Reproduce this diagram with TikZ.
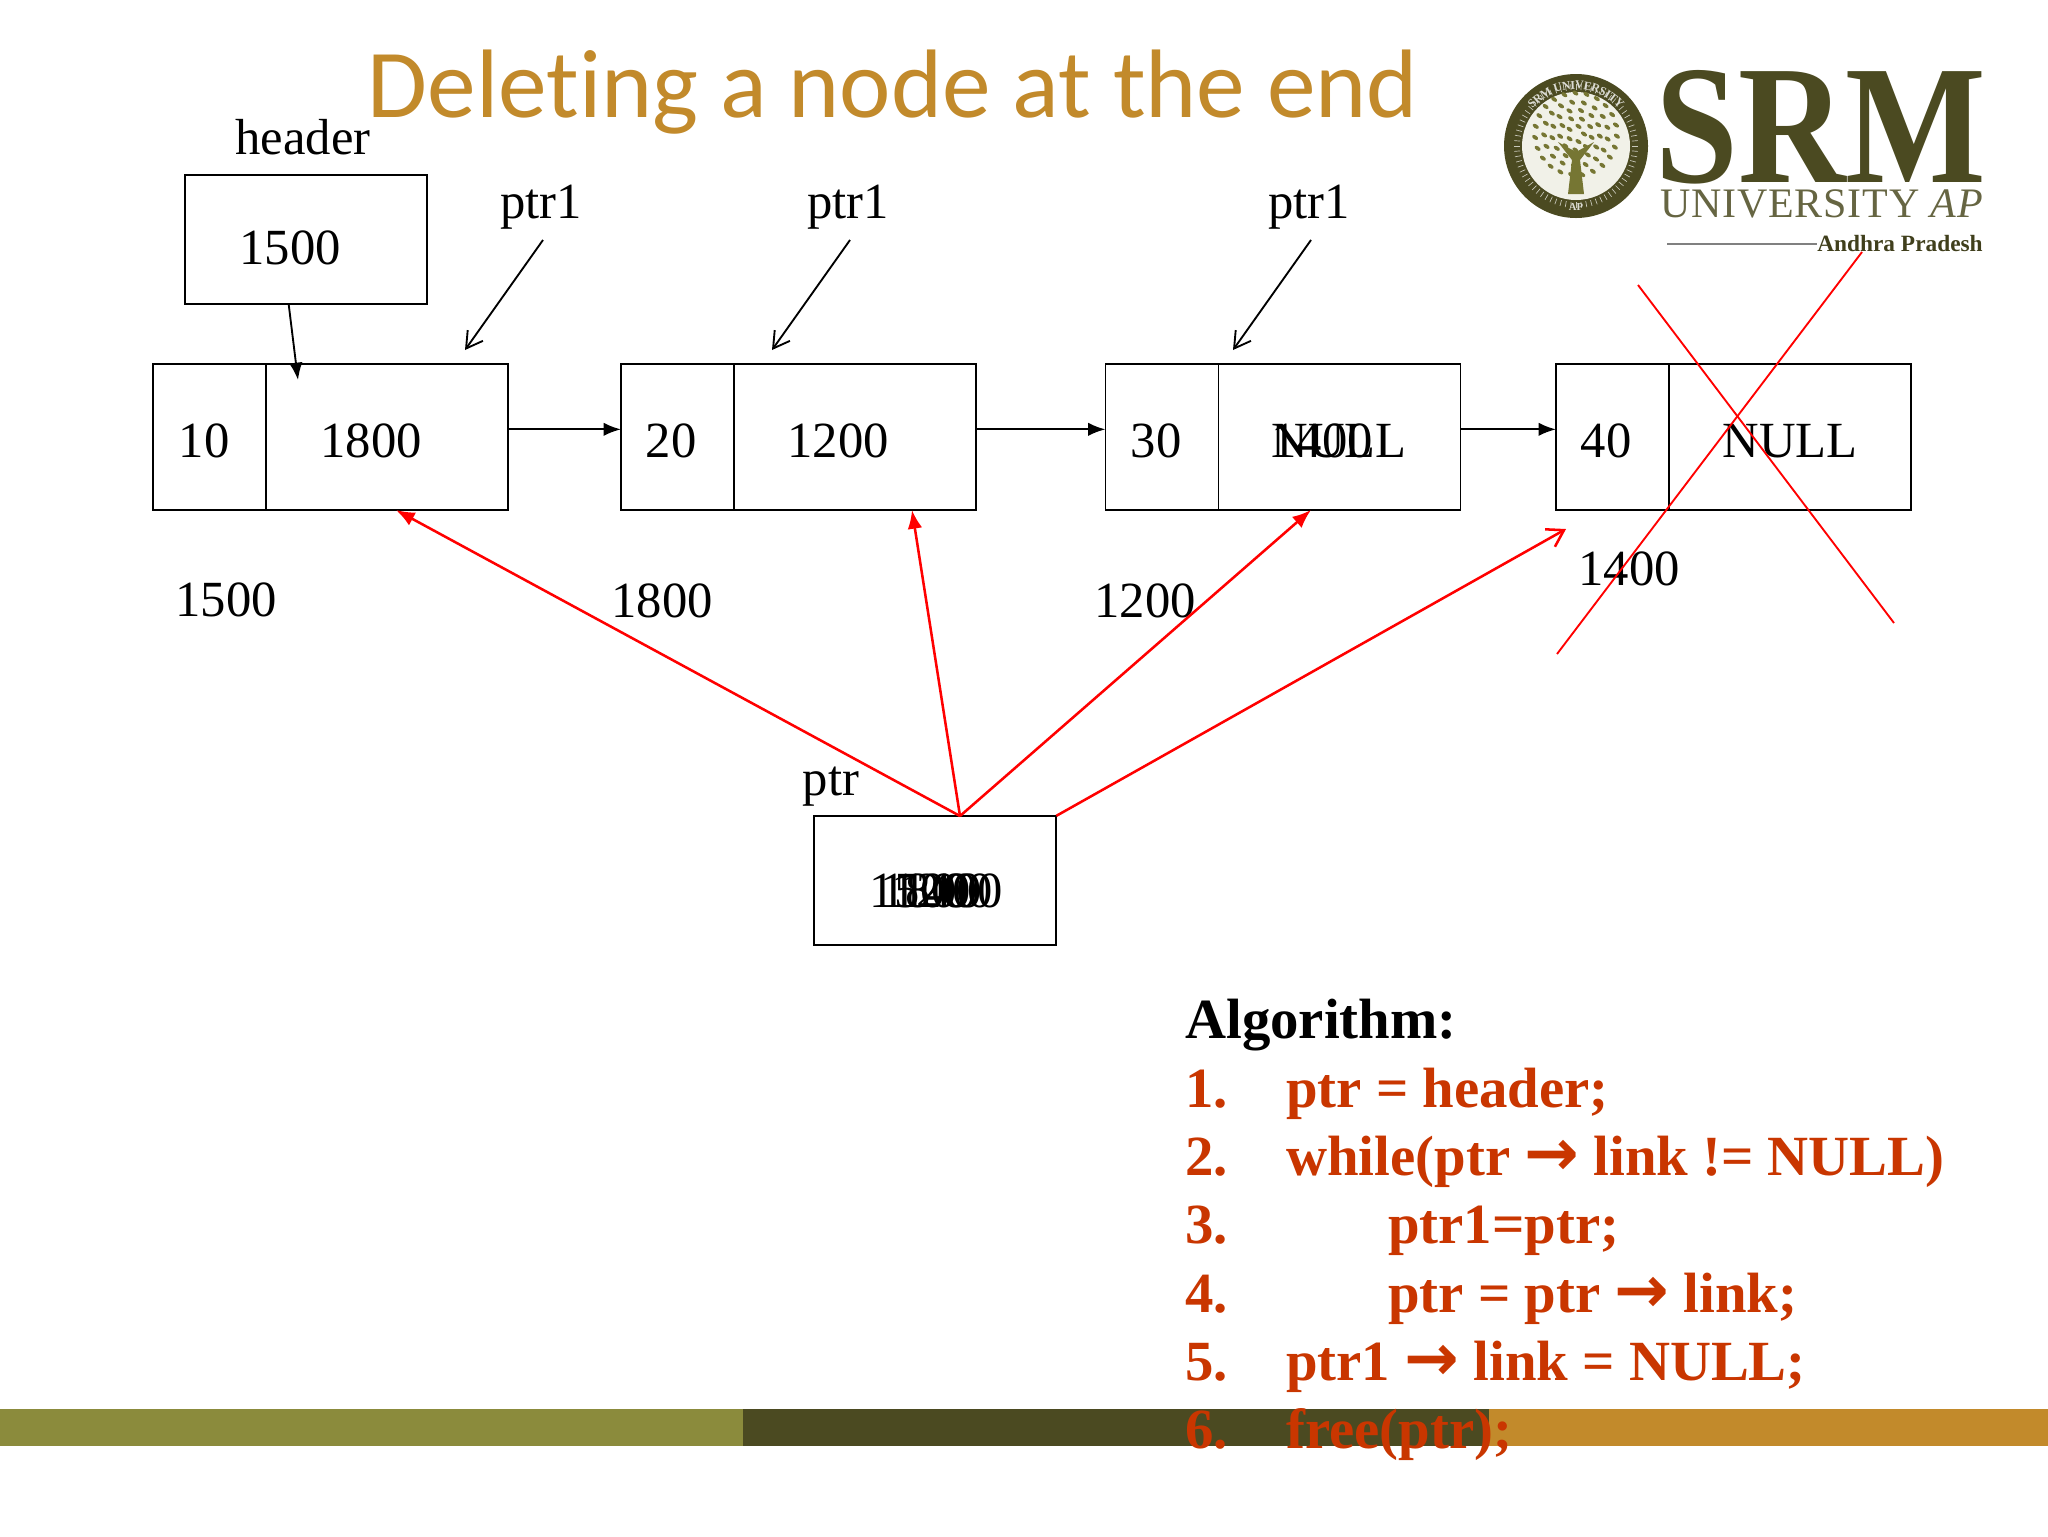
\documentclass[tikz,border=0pt]{standalone}
\usepackage{fontspec}
\setmainfont{Liberation Serif}
\newfontfamily\titlefont[Ligatures=NoCommon]{Carlito}
\newfontfamily\arrowfont{DejaVu Sans}
\usetikzlibrary{arrows.meta,decorations.text}
\definecolor{srmolive}{HTML}{8B8B3C}
\definecolor{srmdark}{HTML}{4B4A21}
\definecolor{srmgold}{HTML}{C28A2B}
\definecolor{algored}{HTML}{C93600}
\newcommand{\bigarrow}{{\arrowfont\fontsize{49}{46}\selectfont →}}
\tikzset{
  datacell/.style={draw,line width=1.4pt,outer sep=0pt,inner sep=0pt,minimum width=84.75pt,minimum height=109.5pt},
  linkcell/.style={draw,line width=1.4pt,outer sep=0pt,inner sep=0pt,minimum width=181.5pt,minimum height=109.5pt},
  valbox/.style={draw,line width=1.4pt,outer sep=0pt,inner sep=0pt,minimum width=182pt,minimum height=97pt},
  lbl/.style={font=\fontsize{38}{40}\selectfont,inner sep=0pt},
  algo/.style={font=\fontsize{42.6}{46}\selectfont\bfseries,text=algored,anchor=base west,inner sep=0pt},
  nextarrow/.style={line width=1.6pt,-{Latex[length=13pt,width=10pt]}},
  openarrow/.style={line width=1.4pt,-{Straight Barb[length=12pt,width=14pt]}},
  redarrow/.style={red,line width=1.9pt,-{Latex[length=14pt,width=11pt]}},
  redopen/.style={red,line width=1.9pt,-{Straight Barb[length=12pt,width=15pt]}},
  crossline/.style={red,line width=1.4pt},
  leaf/.style={fill=srmolive!85!black},
}
\begin{document}
\begin{tikzpicture}[x=0.75pt,y=0.75pt,yscale=-1,xscale=1]
\useasboundingbox (0,0) rectangle (2048,1536);
\fill[white] (0,0) rectangle (2048,1536);

% Footer bars
\fill[srmolive] (0,1409) rectangle (743,1446);
\fill[srmdark] (743,1409) rectangle (1489,1446);
\fill[srmgold] (1489,1409) rectangle (2048,1446);

% Title
\node (title) at (893,92) [font=\fontsize{73}{76}\selectfont\titlefont,text=srmgold,inner sep=0pt] {Deleting a node at the end};

% Logo seal
\fill[srmdark] (1576,146) circle (72);
\foreach \a in {0,5,...,355} {
  \draw[white!70!srmdark,line width=.5pt] (1576,146) ++(\a:56) -- ++(\a:6);
}
\fill[white!88!srmolive] (1576,146) circle (54);
\foreach \r/\n/\o in {8/5/0,16/9/12,24/13/5,32/17/9,41/23/3} {
  \foreach \i in {1,...,\n} {
    \fill[leaf] (1576,134) ++({\o+\i*360/\n}:\r) ellipse [x radius=3.4,y radius=2,rotate=35];
  }
}
\fill[srmolive!85!black] (1568,194) -- (1572,160) -- (1558,142) -- (1576,152) -- (1594,142) -- (1580,160) -- (1584,194) -- cycle;
\path[decorate,decoration={text along path,text align=center,raise=-3pt,
  text={|\fontsize{9}{10}\selectfont\bfseries\color{white!80!srmdark}|SRM UNIVERSITY}}]
  (1576,146) ++(195:61) arc (195:345:61);
\node (sealap) at (1576,207) [font=\fontsize{8}{9}\selectfont\bfseries,text=white!80!srmdark,inner sep=0pt] {AP};

% Logo lettering
\node (srm) at (1821,127) [font=\fontsize{127}{130}\selectfont\bfseries,text=srmdark,inner sep=0pt,xscale=.88] {SRM};
\node (university) at (1822,204) [font=\fontsize{31.5}{34}\selectfont,text=srmdark!85,inner sep=0pt] {\addfontfeatures{LetterSpace=2}UNIVERSITY \textit{AP}};
\node (andhra) at (1900,244) [font=\fontsize{17.5}{19}\selectfont\bfseries,text=srmdark!85!black,inner sep=0pt] {Andhra Pradesh};
\coordinate (ruleStart) at (1667,244);
\draw[gray,line width=1pt] (ruleStart) -- (andhra.west);

% Header box
\node[valbox] (headerBox) at (306,239.5) {};
\node[lbl] (headerLbl) at (303,137) {header};
\node[lbl] (headerVal) at (290,248) {1500};

% List cells
\node[datacell] (dataA) at (209.5,437) {};
\node[linkcell] (linkA) at (387,437) {};
\node[datacell] (dataB) at (677.5,437) {};
\node[linkcell] (linkB) at (855,437) {};
\node[datacell] (dataC) at (1162,437) {};
\node[linkcell] (linkC) at (1339.5,437) {};
\node[datacell] (dataD) at (1612.5,437) {};
\node[linkcell] (linkD) at (1790,437) {};

% Text Node
\node[lbl] (valA) at (204,441) {10};
\node[lbl] (ptA) at (371,441) {1800};
\node[lbl] (valB) at (671,441) {20};
\node[lbl] (ptB) at (838,441) {1200};
\node[lbl] (valC) at (1156,441) {30};
\node[lbl] (ptCa) at (1322,441) {1400};
\node[lbl] (ptCb) at (1339,441) {NULL};
\node[lbl] (valD) at (1606,441) {40};
\node[lbl] (ptD) at (1790,441) {NULL};

% Text Node
\node[lbl] (addrA) at (226,600) {1500};
\node[lbl] (addrB) at (662,601) {1800};
\node[lbl] (addrC) at (1145,601) {1200};
\node[lbl] (addrD) at (1629,569) {1400};

% Text Node
\node[lbl] (ptrOneA) at (541,207) {ptr1};
\node[lbl] (ptrOneB) at (848,207) {ptr1};
\node[lbl] (ptrOneC) at (1309,207) {ptr1};

% ptr box
\node[valbox] (ptrBox) at (935,880.5) {};
\node[lbl] (ptrLbl) at (831,787) {ptr};
\node[lbl] (ptrValA) at (920,891) {1500};
\node[lbl] (ptrValB) at (931,891) {1800};
\node[lbl] (ptrValC) at (942,891) {1200};
\node[lbl] (ptrValD) at (952,891) {1400};

% Black arrows
\draw[nextarrow,line width=1.4pt] ([xshift=-13pt]headerBox.south) -- ([xshift=-66.75pt,yshift=12pt]linkA.north);
\draw[nextarrow] ([yshift=-5.75pt]linkA.east) -- ([yshift=-5.75pt]dataB.west);
\draw[nextarrow] ([yshift=-5.75pt]linkB.east) -- ([yshift=-5.75pt]dataC.west);
\draw[nextarrow] ([yshift=-5.75pt]linkC.east) -- ([yshift=-5.75pt]dataD.west);

\coordinate (ptrTailA) at (543,240);
\coordinate (ptrHeadA) at (465,350);
\coordinate (ptrTailB) at (850,240);
\coordinate (ptrHeadB) at (772,350);
\coordinate (ptrTailC) at (1311,240);
\coordinate (ptrHeadC) at (1233,350);
\draw[openarrow] (ptrTailA) -- (ptrHeadA);
\draw[openarrow] (ptrTailB) -- (ptrHeadB);
\draw[openarrow] (ptrTailC) -- (ptrHeadC);

% Red arrows
\coordinate (ptrTop) at (960,816);
\coordinate (freeHead) at (1566,529);
\draw[redarrow] (ptrTop) -- ([xshift=6.75pt]linkA.south);
\draw[redarrow] (ptrTop) -- ([xshift=42.75pt]linkB.south);
\draw[redarrow] (ptrTop) -- ([xshift=-21.4pt]linkC.south);
\draw[redopen] (ptrBox.north east) -- (freeHead);

% Cross
\coordinate (crossA) at (1638,285);
\coordinate (crossB) at (1894,623);
\coordinate (crossC) at (1862,252);
\coordinate (crossD) at (1557,654);
\draw[crossline] (crossA) -- (crossB);
\draw[crossline] (crossC) -- (crossD);

% Algorithm
\node[algo,text=black] (algoHead) at (1185,1038) {Algorithm:};
\node[algo] (numA) at (1185,1107) {1.};
\node[algo] (stepA) at (1286,1107) {ptr = header;};
\node[algo] (numB) at (1185,1175) {2.};
\node[algo] (stepB) at (1286,1175) {while(ptr \bigarrow{} link != NULL)};
\node[algo] (numC) at (1185,1243) {3.};
\node[algo] (stepC) at (1388,1243) {ptr1=ptr;};
\node[algo] (numD) at (1185,1312) {4.};
\node[algo] (stepD) at (1388,1312) {ptr = ptr \bigarrow{} link;};
\node[algo] (numE) at (1185,1380) {5.};
\node[algo] (stepE) at (1286,1380) {ptr1 \bigarrow{} link = NULL;};
\node[algo] (numF) at (1185,1448) {6.};
\node[algo] (stepF) at (1286,1448) {free(ptr);};

\end{tikzpicture}
\end{document}
